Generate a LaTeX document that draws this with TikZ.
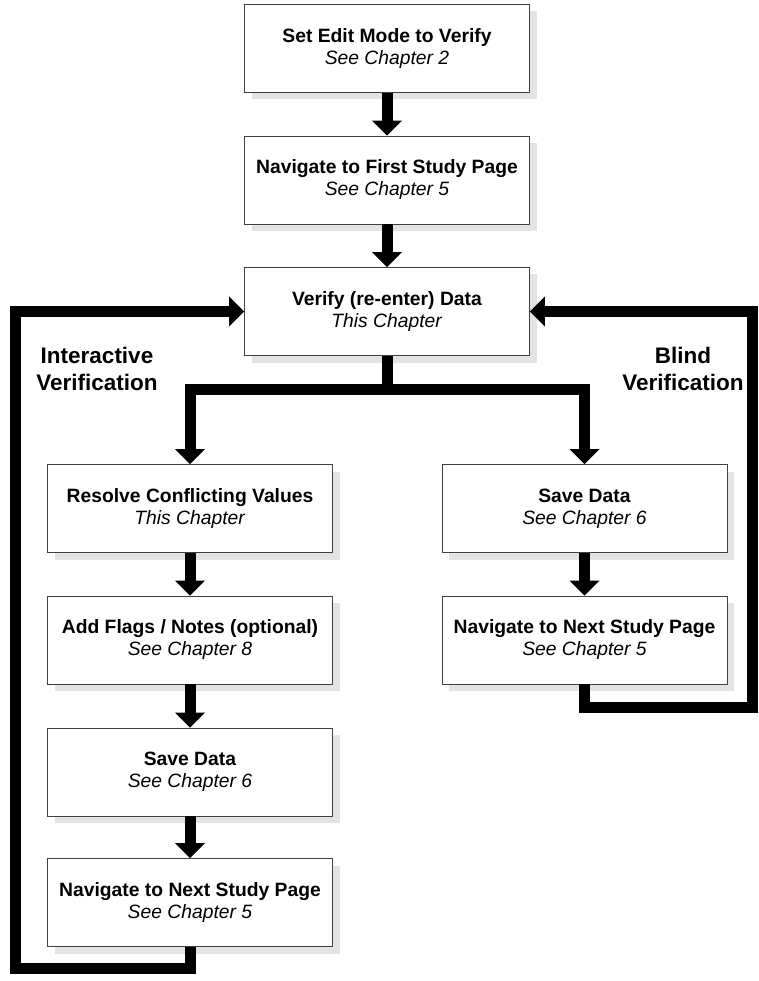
\documentclass[tikz,border=0pt]{standalone}
\usepackage{fontspec}
\setmainfont{Liberation Sans}
\usetikzlibrary{arrows.meta,shadows}
\newcommand\steptext[2]{\textbf{#1}\\\textit{#2}}
\tikzset{
  stepbox/.style={draw=black!75, line width=0.8pt, fill=white,
    minimum width=285pt, minimum height=88pt, inner sep=0pt, align=center,
    font=\fontsize{19.3}{22}\selectfont,
    drop shadow={shadow xshift=7pt, shadow yshift=-7pt, fill=black!11, opacity=1}},
  flow/.style={line width=11pt, line join=miter,
    -{Triangle[width=30pt,length=15pt,line width=0pt]}},
  looplabel/.style={align=center, font=\fontsize{22.5}{27}\selectfont\bfseries},
}
\begin{document}
\begin{tikzpicture}[x=1pt,y=-1pt]
\useasboundingbox (0,0) rectangle (758,981);
% main column
\node[stepbox] (edit) at (387,48.5) {\steptext{Set Edit Mode to Verify}{See Chapter 2}};
\node[stepbox] (first) at (387,180) {\steptext{Navigate to First Study Page}{See Chapter 5}};
\node[stepbox] (verify) at (387,311.5) {\steptext{Verify (re-enter) Data}{This Chapter}};
% interactive branch
\node[stepbox] (resolve) at (190,508.5) {\steptext{Resolve Conflicting Values}{This Chapter}};
\node[stepbox] (flags) at (190,640) {\steptext{Add Flags / Notes (optional)}{See Chapter 8}};
\node[stepbox] (saveL) at (190,772) {\steptext{Save Data}{See Chapter 6}};
\node[stepbox] (nextL) at (190,902.5) {\steptext{Navigate to Next Study Page}{See Chapter 5}};
% blind branch
\node[stepbox] (saveR) at (584.5,508.5) {\steptext{Save Data}{See Chapter 6}};
\node[stepbox] (nextR) at (584.5,640) {\steptext{Navigate to Next Study Page}{See Chapter 5}};
\node[looplabel] (inter) at (97,369) {Interactive\\Verification};
\node[looplabel] (blind) at (683,369) {Blind\\Verification};
\coordinate (fork) at (387,389);
\coordinate (backL) at (15,968);
\coordinate (backR) at (752.5,707);
\draw[flow] (edit.south) -- (first.north);
\draw[flow] (first.south) -- (verify.north);
\draw[flow] (verify.south) -- (fork) -| (resolve.north);
\draw[flow] (fork) -| (saveR.north);
\draw[flow] (resolve.south) -- (flags.north);
\draw[flow] (flags.south) -- (saveL.north);
\draw[flow] (saveL.south) -- (nextL.north);
\draw[flow] (saveR.south) -- (nextR.north);
% loops back to the verify step
\draw[flow] (nextL.south) |- (backL) |- (verify.west);
\draw[flow] (nextR.south) |- (backR) |- (verify.east);
\end{tikzpicture}
\end{document}
